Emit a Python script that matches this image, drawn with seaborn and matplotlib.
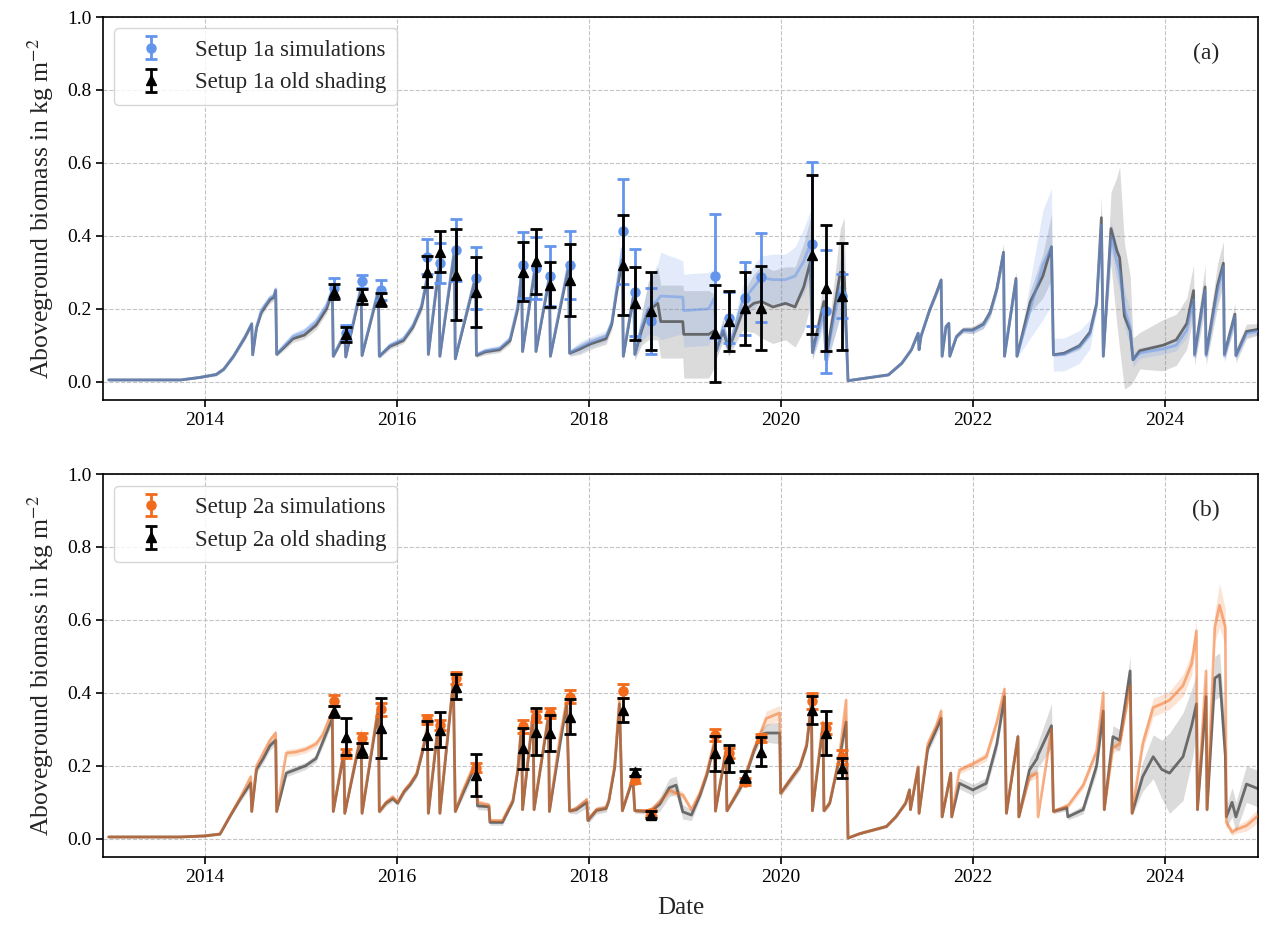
import numpy as np
import pandas as pd
import matplotlib
matplotlib.use("Agg")
import matplotlib.pyplot as plt
import matplotlib.dates as mdates
import seaborn as sns

# ---------------- data: panel (a) simulated time series (decimal years) ----------------
a_t = [2013.00, 2013.75, 2013.95, 2014.12, 2014.20, 2014.30, 2014.42, 2014.49, 2014.50, 2014.54,
       2014.59, 2014.64, 2014.68, 2014.72, 2014.74, 2014.75, 2014.83, 2014.92, 2015.04, 2015.16,
       2015.27, 2015.33, 2015.34, 2015.46, 2015.47, 2015.63, 2015.64, 2015.81, 2015.82, 2015.93,
       2016.07, 2016.17, 2016.26, 2016.32, 2016.33, 2016.44, 2016.45, 2016.60, 2016.61, 2016.82,
       2016.83, 2016.92, 2017.07, 2017.18, 2017.26, 2017.30, 2017.31, 2017.44, 2017.45, 2017.59,
       2017.60, 2017.79, 2017.80, 2017.91, 2018.01, 2018.18, 2018.24, 2018.29, 2018.35, 2018.36,
       2018.47, 2018.48, 2018.55, 2018.62, 2018.72, 2018.75, 2018.98, 2018.99, 2019.25, 2019.31,
       2019.33, 2019.40, 2019.46, 2019.60, 2019.72, 2019.80, 2019.92, 2020.05, 2020.15, 2020.24,
       2020.31, 2020.33, 2020.45, 2020.47, 2020.62, 2020.66, 2020.70, 2021.12, 2021.26, 2021.36,
       2021.43, 2021.44, 2021.46, 2021.55, 2021.62, 2021.67, 2021.68, 2021.72, 2021.75, 2021.76,
       2021.83, 2021.90, 2022.00, 2022.11, 2022.18, 2022.25, 2022.32, 2022.33, 2022.45, 2022.46,
       2022.60, 2022.73, 2022.82, 2022.84, 2022.95, 2023.11, 2023.22, 2023.29, 2023.34, 2023.36,
       2023.44, 2023.50, 2023.53, 2023.58, 2023.64, 2023.67, 2023.74, 2023.98, 2024.12, 2024.23,
       2024.30, 2024.31, 2024.42, 2024.43, 2024.55, 2024.61, 2024.62, 2024.73, 2024.74, 2024.85,
       2025.00]
a_sim = [.005, .005, .012, .020, .035, .070, .124, .160, .074, .150,
         .197, .215, .230, .235, .254, .077, .100, .125, .138, .165,
         .210, .255, .070, .135, .068, .265, .072, .255, .070, .100,
         .118, .155, .210, .295, .075, .325, .070, .365, .063, .290,
         .075, .085, .092, .118, .210, .300, .083, .318, .083, .292,
         .070, .325, .080, .095, .108, .125, .163, .255, .365, .070,
         .245, .075, .150, .200, .225, .235, .232, .195, .200, .230,
         .085, .150, .090, .220, .260, .285, .280, .280, .290, .330,
         .380, .080, .190, .060, .260, .250, .003, .019, .051, .088,
         .133, .088, .125, .197, .243, .279, .070, .151, .160, .070,
         .124, .142, .140, .156, .188, .252, .352, .070, .279, .070,
         .200, .320, .370, .074, .075, .095, .130, .210, .430, .070,
         .400, .330, .300, .200, .150, .060, .079, .090, .100, .142,
         .225, .070, .250, .070, .250, .316, .070, .179, .070, .133,
         .140]
a_old = [.005, .005, .012, .020, .035, .070, .122, .158, .074, .148,
         .190, .210, .225, .232, .250, .075, .095, .118, .128, .155,
         .200, .248, .070, .130, .068, .255, .072, .248, .070, .097,
         .113, .150, .205, .285, .075, .315, .070, .355, .063, .285,
         .072, .082, .088, .113, .200, .295, .083, .310, .083, .285,
         .070, .315, .078, .090, .103, .118, .158, .245, .335, .070,
         .240, .075, .140, .195, .215, .165, .165, .130, .130, .140,
         .085, .140, .090, .190, .215, .220, .205, .215, .205, .260,
         .330, .080, .220, .060, .300, .300, .003, .019, .051, .088,
         .133, .088, .125, .197, .243, .279, .070, .151, .160, .070,
         .124, .142, .142, .158, .190, .255, .355, .070, .283, .070,
         .220, .290, .370, .074, .078, .098, .135, .215, .450, .070,
         .420, .360, .340, .180, .140, .060, .085, .100, .115, .160,
         .250, .075, .260, .075, .265, .325, .075, .185, .072, .138,
         .145]
a_sim_band = [.002, .002, .003, .004, .005, .006, .008, .008, .006, .008,
              .010, .010, .010, .010, .010, .006, .008, .010, .010, .012,
              .012, .015, .006, .010, .006, .012, .006, .010, .006, .008,
              .008, .010, .012, .015, .006, .015, .006, .015, .006, .015,
              .006, .008, .008, .010, .012, .015, .006, .015, .006, .015,
              .006, .015, .008, .015, .015, .015, .015, .015, .020, .010,
              .015, .015, .040, .070, .100, .120, .100, .100, .100, .080,
              .020, .030, .020, .040, .060, .060, .070, .070, .080, .090,
              .090, .020, .040, .020, .080, .100, .002, .003, .004, .005,
              .006, .005, .006, .008, .010, .010, .005, .008, .008, .005,
              .006, .008, .008, .010, .010, .012, .020, .005, .020, .005,
              .080, .150, .160, .045, .045, .045, .040, .015, .040, .010,
              .040, .050, .050, .050, .050, .020, .015, .015, .015, .020,
              .030, .010, .030, .010, .030, .030, .010, .020, .010, .010,
              .010]
a_old_band = [.002, .002, .003, .004, .005, .006, .008, .008, .006, .008,
              .010, .010, .010, .010, .010, .006, .008, .010, .010, .012,
              .012, .015, .006, .010, .006, .012, .006, .010, .006, .008,
              .008, .010, .012, .015, .006, .015, .006, .015, .006, .015,
              .006, .008, .008, .010, .012, .015, .006, .015, .006, .015,
              .006, .015, .008, .015, .015, .015, .015, .015, .020, .010,
              .015, .015, .040, .080, .100, .100, .100, .120, .120, .100,
              .020, .030, .020, .050, .080, .100, .100, .100, .110, .120,
              .120, .020, .050, .020, .120, .150, .002, .003, .004, .005,
              .006, .005, .006, .008, .010, .010, .005, .008, .008, .005,
              .006, .008, .010, .012, .015, .015, .025, .005, .020, .005,
              .030, .060, .090, .005, .006, .010, .012, .020, .060, .010,
              .100, .200, .250, .200, .150, .060, .050, .070, .070, .070,
              .070, .030, .060, .030, .060, .060, .020, .030, .020, .020,
              .015]

# ---------------- data: panel (b) simulated time series ----------------
b_t = [2013.00, 2013.75, 2014.00, 2014.16, 2014.26, 2014.36, 2014.48, 2014.49, 2014.54, 2014.61,
       2014.68, 2014.74, 2014.75, 2014.85, 2014.95, 2015.05, 2015.16, 2015.23, 2015.30, 2015.33,
       2015.34, 2015.45, 2015.46, 2015.63, 2015.64, 2015.81, 2015.82, 2015.89, 2015.96, 2016.01,
       2016.08, 2016.14, 2016.21, 2016.27, 2016.32, 2016.33, 2016.43, 2016.45, 2016.59, 2016.61,
       2016.69, 2016.80, 2016.83, 2016.84, 2016.96, 2016.97, 2017.10, 2017.21, 2017.26, 2017.30,
       2017.31, 2017.42, 2017.43, 2017.58, 2017.59, 2017.70, 2017.77, 2017.80, 2017.87, 2017.98,
       2017.99, 2018.08, 2018.18, 2018.21, 2018.27, 2018.32, 2018.35, 2018.46, 2018.48, 2018.60,
       2018.65, 2018.74, 2018.84, 2018.91, 2018.98, 2019.07, 2019.16, 2019.23, 2019.31, 2019.32,
       2019.43, 2019.44, 2019.57, 2019.62, 2019.72, 2019.79, 2019.85, 2019.99, 2020.00, 2020.09,
       2020.20, 2020.27, 2020.32, 2020.33, 2020.44, 2020.45, 2020.51, 2020.61, 2020.68, 2020.70,
       2020.82, 2021.10, 2021.20, 2021.30, 2021.34, 2021.35, 2021.43, 2021.44, 2021.53, 2021.62,
       2021.67, 2021.68, 2021.77, 2021.78, 2021.86, 2022.00, 2022.14, 2022.25, 2022.33, 2022.35,
       2022.47, 2022.48, 2022.59, 2022.67, 2022.68, 2022.82, 2022.84, 2022.98, 2022.99, 2023.15,
       2023.29, 2023.36, 2023.37, 2023.46, 2023.53, 2023.64, 2023.66, 2023.77, 2023.88, 2023.97,
       2024.05, 2024.19, 2024.28, 2024.33, 2024.34, 2024.43, 2024.44, 2024.52, 2024.57, 2024.63,
       2024.64, 2024.70, 2024.74, 2024.85, 2025.00]
b_sim = [.005, .005, .008, .013, .061, .107, .170, .075, .200, .235,
         .270, .290, .075, .235, .238, .245, .260, .285, .330, .350,
         .075, .240, .070, .290, .070, .366, .075, .100, .115, .100,
         .133, .152, .180, .245, .310, .070, .310, .070, .436, .075,
         .133, .200, .205, .100, .092, .050, .050, .107, .189, .317,
         .080, .345, .080, .340, .075, .280, .380, .076, .083, .107,
         .052, .080, .085, .107, .200, .380, .077, .168, .077, .077,
         .080, .100, .133, .125, .120, .080, .127, .180, .270, .076,
         .245, .077, .140, .165, .245, .290, .330, .345, .125, .160,
         .200, .260, .375, .077, .320, .077, .098, .225, .380, .002,
         .014, .034, .061, .098, .134, .080, .198, .070, .260, .310,
         .350, .060, .180, .060, .188, .205, .225, .320, .410, .070,
         .280, .060, .170, .180, .060, .300, .075, .090, .090, .147,
         .240, .400, .080, .250, .260, .420, .070, .260, .360, .370,
         .380, .420, .480, .570, .080, .460, .080, .580, .640, .580,
         .045, .018, .025, .036, .070]
b_old = [.005, .005, .008, .013, .060, .105, .153, .075, .190, .220,
         .255, .270, .075, .180, .190, .200, .220, .265, .310, .330,
         .075, .235, .070, .285, .070, .355, .075, .098, .110, .098,
         .130, .148, .177, .240, .300, .070, .305, .070, .430, .075,
         .125, .190, .195, .090, .088, .045, .045, .103, .185, .310,
         .080, .340, .080, .335, .075, .260, .370, .076, .080, .100,
         .050, .078, .083, .105, .195, .370, .077, .165, .077, .075,
         .075, .095, .140, .147, .074, .065, .120, .175, .260, .076,
         .240, .077, .135, .160, .240, .285, .290, .290, .125, .158,
         .198, .255, .370, .077, .310, .077, .098, .220, .320, .002,
         .014, .034, .061, .098, .134, .080, .195, .070, .247, .300,
         .330, .060, .180, .060, .152, .134, .152, .260, .390, .070,
         .280, .060, .188, .220, .230, .310, .075, .085, .060, .080,
         .200, .350, .080, .280, .270, .460, .070, .170, .225, .190,
         .180, .225, .310, .370, .080, .390, .080, .440, .450, .230,
         .060, .100, .060, .150, .134]
b_sim_band = [.002, .002, .003, .003, .005, .008, .010, .006, .010, .010,
              .010, .010, .006, .010, .010, .010, .010, .012, .012, .012,
              .006, .010, .006, .015, .006, .012, .006, .008, .008, .008,
              .008, .008, .010, .012, .012, .006, .012, .006, .012, .006,
              .010, .012, .012, .008, .008, .006, .006, .008, .010, .012,
              .006, .012, .006, .012, .006, .012, .012, .006, .008, .008,
              .006, .008, .008, .008, .010, .012, .006, .010, .006, .006,
              .008, .010, .010, .010, .010, .008, .010, .010, .015, .006,
              .012, .006, .010, .010, .012, .012, .020, .020, .008, .010,
              .010, .012, .015, .006, .015, .006, .008, .015, .020, .002,
              .003, .004, .005, .006, .008, .005, .010, .005, .012, .015,
              .015, .005, .010, .005, .010, .010, .012, .015, .015, .006,
              .015, .005, .012, .012, .006, .015, .006, .008, .008, .010,
              .015, .020, .006, .015, .015, .020, .006, .020, .025, .025,
              .025, .030, .030, .030, .008, .030, .008, .040, .060, .050,
              .010, .010, .010, .015, .020]
b_old_band = [.002, .002, .003, .003, .005, .008, .010, .006, .010, .012,
              .012, .012, .006, .010, .010, .010, .010, .012, .012, .012,
              .006, .010, .006, .020, .006, .012, .006, .008, .008, .008,
              .008, .008, .010, .012, .012, .006, .012, .006, .012, .006,
              .012, .015, .015, .010, .010, .008, .008, .008, .010, .012,
              .006, .012, .006, .012, .006, .015, .012, .006, .012, .015,
              .010, .010, .010, .010, .010, .012, .006, .010, .006, .008,
              .010, .020, .025, .025, .020, .015, .012, .012, .015, .006,
              .012, .006, .010, .010, .012, .015, .025, .030, .008, .010,
              .010, .012, .015, .006, .015, .006, .008, .015, .030, .002,
              .003, .004, .005, .006, .008, .005, .010, .005, .012, .015,
              .015, .005, .010, .005, .015, .015, .015, .020, .020, .006,
              .015, .005, .030, .035, .035, .060, .006, .008, .008, .012,
              .020, .030, .006, .030, .030, .040, .006, .040, .060, .080,
              .110, .120, .100, .080, .010, .060, .010, .060, .060, .080,
              .030, .040, .040, .050, .050]

# ---------------- data: error-bar points ----------------
pt_t = [2015.35, 2015.47, 2015.64, 2015.84, 2016.32, 2016.45, 2016.62, 2016.83, 2017.31, 2017.45,
        2017.60, 2017.80, 2018.36, 2018.48, 2018.65, 2019.32, 2019.46, 2019.63, 2019.79, 2020.33,
        2020.47, 2020.64]
a_sim_pt = [0.257, 0.135, 0.275, 0.252, 0.343, 0.325, 0.362, 0.284, 0.320, 0.311,
            0.290, 0.320, 0.412, 0.245, 0.167, 0.290, 0.176, 0.229, 0.286, 0.377,
            0.193, 0.235]
a_sim_err = [0.028, 0.020, 0.018, 0.028, 0.048, 0.055, 0.085, 0.085, 0.090, 0.085,
             0.082, 0.093, 0.145, 0.120, 0.090, 0.170, 0.070, 0.100, 0.123, 0.225,
             0.168, 0.060]
a_old_pt = [0.247, 0.130, 0.234, 0.225, 0.302, 0.357, 0.293, 0.247, 0.302, 0.330,
            0.266, 0.279, 0.320, 0.215, 0.193, 0.133, 0.167, 0.202, 0.202, 0.348,
            0.257, 0.234]
a_old_err = [0.020, 0.020, 0.020, 0.017, 0.042, 0.055, 0.125, 0.096, 0.080, 0.090,
             0.062, 0.100, 0.137, 0.100, 0.107, 0.133, 0.082, 0.100, 0.116, 0.218,
             0.173, 0.146]
b_sim_pt = [0.378, 0.233, 0.276, 0.355, 0.328, 0.312, 0.440, 0.195, 0.308, 0.335,
            0.344, 0.390, 0.405, 0.162, 0.070, 0.285, 0.235, 0.157, 0.276, 0.378,
            0.303, 0.225]
b_sim_err = [0.015, 0.012, 0.014, 0.018, 0.012, 0.015, 0.016, 0.012, 0.018, 0.014,
             0.014, 0.018, 0.018, 0.010, 0.008, 0.016, 0.014, 0.010, 0.012, 0.023,
             0.015, 0.019]
b_old_pt = [0.349, 0.280, 0.244, 0.303, 0.285, 0.299, 0.417, 0.175, 0.248, 0.294,
            0.290, 0.335, 0.353, 0.182, 0.066, 0.235, 0.221, 0.171, 0.239, 0.353,
            0.290, 0.194]
b_old_err = [0.016, 0.050, 0.019, 0.082, 0.039, 0.048, 0.035, 0.058, 0.057, 0.064,
             0.050, 0.048, 0.032, 0.010, 0.010, 0.048, 0.037, 0.014, 0.039, 0.039,
             0.061, 0.027]

x_limits = [2012.94, 2024.97]
y_ticks = [0.0, 0.2, 0.4, 0.6, 0.8, 1.0]

# ---------------- styling ----------------
sns.set_theme(style="ticks")
plt.rcParams['font.family'] = ['Liberation Serif', 'DejaVu Serif']
plt.rcParams['mathtext.fontset'] = 'stix'

BLUE = "#6495ED"
ORANGE = "#F26A1B"
GRAY = "#454545"


def to_dt(years):
    out = []
    for y in years:
        yi = int(np.floor(y))
        start = pd.Timestamp(yi, 1, 1)
        end = pd.Timestamp(yi + 1, 1, 1)
        out.append(start + (end - start) * (y - yi))
    return pd.DatetimeIndex(out)


def panel(ax, t, sim, old, sim_band, old_band, sim_pt, sim_err, old_pt, old_err,
          color, lab_sim, lab_old, tag, line_alpha, band_alpha):
    d = to_dt(t)
    sim = np.array(sim); old = np.array(old)
    sb = np.array(sim_band); ob = np.array(old_band)
    ax.fill_between(d, old - ob, old + ob, color="#7f7f7f", alpha=0.28, lw=0, zorder=1)
    ax.fill_between(d, sim - sb, sim + sb, color=color, alpha=band_alpha, lw=0, zorder=1)
    sns.lineplot(x=d, y=old, ax=ax, color=GRAY, alpha=0.75, lw=2.0,
                 estimator=None, sort=False, legend=False, zorder=2)
    sns.lineplot(x=d, y=sim, ax=ax, color=color, alpha=line_alpha, lw=2.0,
                 estimator=None, sort=False, legend=False, zorder=3)
    pd_ = to_dt(pt_t)
    ax.errorbar(pd_, sim_pt, yerr=sim_err, fmt='o', color=color, ms=6.5,
                capsize=4, elinewidth=2, capthick=2, label=lab_sim, zorder=5)
    ax.errorbar(pd_, old_pt, yerr=old_err, fmt='^', color='black', ms=6.5,
                capsize=4, elinewidth=2, capthick=2, label=lab_old, zorder=6)
    ax.set_xlim(to_dt([x_limits[0]])[0], to_dt([x_limits[1]])[0])
    ax.set_ylim(-0.05, 1.0)
    ax.set_yticks(y_ticks)
    ax.yaxis.set_major_formatter(matplotlib.ticker.FormatStrFormatter('%.1f'))
    ax.xaxis.set_major_locator(mdates.YearLocator(2))
    ax.xaxis.set_major_formatter(mdates.DateFormatter('%Y'))
    ax.grid(True, linestyle='--', color='#c4c4c4', linewidth=0.8)
    ax.set_axisbelow(True)
    ax.tick_params(axis='both', labelsize=14, direction='out', length=5, width=1.2,
                   bottom=True, left=True, colors='black')
    for s in ax.spines.values():
        s.set_color('black'); s.set_linewidth(1.2)
    ax.set_ylabel("Aboveground biomass in kg m$^{-2}$", fontsize=18.5, labelpad=8)
    ax.set_xlabel("")
    ax.legend(loc='upper left', fontsize=16.5, frameon=True, framealpha=0.8,
              edgecolor='#cccccc', fancybox=True, borderpad=0.5, handlelength=2.2,
              borderaxespad=0.5)
    ax.text(0.955, 0.905, tag, transform=ax.transAxes, fontsize=17, ha='center', va='center')


fig = plt.figure(figsize=(12.65, 9.35), dpi=100)
ax_a = fig.add_axes([0.0814, 0.5722, 0.9131, 0.4096])
ax_b = fig.add_axes([0.0814, 0.0834, 0.9131, 0.4096])

panel(ax_a, a_t, a_sim, a_old, a_sim_band, a_old_band, a_sim_pt, a_sim_err, a_old_pt, a_old_err,
      BLUE, "Setup 1a simulations", "Setup 1a old shading", "(a)", 0.5, 0.18)
panel(ax_b, b_t, b_sim, b_old, b_sim_band, b_old_band, b_sim_pt, b_sim_err, b_old_pt, b_old_err,
      ORANGE, "Setup 2a simulations", "Setup 2a old shading", "(b)", 0.5, 0.18)
ax_b.set_xlabel("Date", fontsize=18, labelpad=8)

fig.savefig("out.png", dpi=100)
